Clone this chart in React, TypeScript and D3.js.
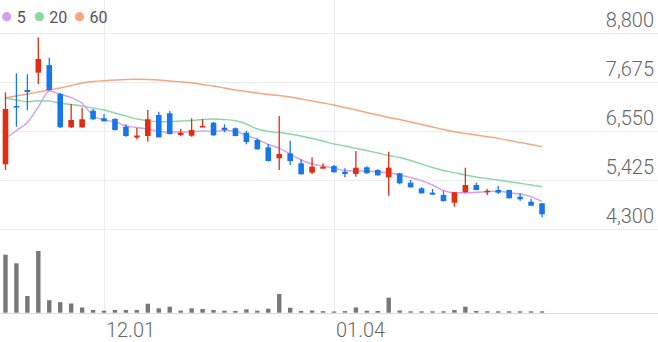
import React from "react";
import * as d3 from "d3";

const W = 658;
const H = 342;

// OHLC values, one per trading day (index 0..49)
const openP = [5785, 7124, 7491, 7889, 8065, 7400, 6635, 6635, 7016, 6842, 6826, 6649, 6401, 6435, 6917, 6956, 6458, 6442, 6635, 6741, 6626, 6612, 6511, 6343, 6176, 5923, 6038, 5808, 5593, 5685, 5746, 5616, 5563, 5716, 5655, 5487, 5579, 5363, 5234, 5135, 5081, 4904, 5143, 5310, 5143, 5195, 5195, 5042, 4927, 4890];
const highP = [7438, 7875, 7852, 8701, 8233, 7430, 7170, 7085, 7055, 6940, 6842, 6704, 6619, 7032, 6993, 7009, 6603, 6842, 6826, 6760, 6704, 6630, 6557, 6382, 6252, 6894, 6327, 5900, 5946, 5808, 5770, 5693, 6091, 5740, 5670, 6075, 5590, 5425, 5260, 5218, 5172, 5150, 5707, 5363, 5218, 5287, 5200, 5120, 4996, 4895];
const lowP = [5655, 6649, 7032, 7629, 7475, 6620, 6620, 6620, 6803, 6770, 6560, 6419, 6355, 6304, 6400, 6470, 6435, 6419, 6635, 6440, 6520, 6430, 6245, 6120, 5850, 5655, 5769, 5550, 5570, 5685, 5595, 5487, 5500, 5570, 5525, 5065, 5330, 5250, 5115, 5085, 4930, 4812, 5135, 5190, 5081, 5104, 5000, 4950, 4830, 4569];
const closeP = [7055, 7094, 7445, 8203, 7491, 6635, 6803, 6819, 6819, 6773, 6573, 6435, 6447, 6819, 6405, 6481, 6511, 6573, 6665, 6451, 6573, 6435, 6298, 6130, 5861, 6022, 5861, 5556, 5731, 5731, 5602, 5563, 5707, 5579, 5533, 5707, 5349, 5257, 5120, 5088, 4943, 5143, 5310, 5195, 5179, 5133, 5005, 4982, 4835, 4638];

// Volume (shares)
const volume = [580000, 494000, 167000, 617000, 125000, 105000, 92000, 52000, 27000, 20000, 27000, 27000, 27000, 90000, 44000, 60000, 20000, 44000, 37000, 27000, 20000, 17000, 34000, 20000, 40000, 187000, 50000, 18000, 22000, 15000, 12000, 16000, 52000, 20000, 18000, 150000, 22000, 14000, 14000, 14000, 14000, 27000, 60000, 17000, 14000, 14000, 14000, 14000, 14000, 14000];

// Moving averages
const ma5 = [6382, 6561, 6745, 7101, 7468, 7393, 7315, 7186, 6901, 6803, 6764, 6665, 6630, 6596, 6539, 6527, 6527, 6534, 6550, 6543, 6561, 6543, 6451, 6359, 6240, 6153, 6022, 5884, 5792, 5746, 5694, 5643, 5632, 5632, 5609, 5593, 5540, 5482, 5409, 5310, 5184, 5133, 5133, 5143, 5156, 5172, 5133, 5104, 5042, 4927];
const ma20 = [7301, 7262, 7223, 7246, 7239, 7186, 7158, 7124, 7078, 7032, 6963, 6894, 6825, 6786, 6764, 6768, 6780, 6791, 6814, 6825, 6814, 6786, 6711, 6596, 6539, 6516, 6481, 6435, 6378, 6320, 6252, 6206, 6153, 6102, 6045, 5988, 5942, 5873, 5792, 5712, 5643, 5593, 5540, 5494, 5459, 5425, 5386, 5349, 5310, 5271];
const ma60 = [7315, 7354, 7399, 7445, 7491, 7537, 7595, 7652, 7686, 7705, 7721, 7732, 7737, 7732, 7721, 7698, 7680, 7657, 7618, 7583, 7537, 7491, 7457, 7422, 7388, 7365, 7331, 7285, 7239, 7193, 7147, 7090, 7032, 6975, 6917, 6860, 6814, 6757, 6699, 6642, 6584, 6534, 6493, 6458, 6419, 6382, 6332, 6286, 6240, 6190];

// Axis ticks
const priceTicks = [8800, 7675, 6550, 5425, 4300];
const dateTickIndex = [9, 30];
const dateTickLabels = ["12.01", "01.04"];

const legendLabels = ["5", "20", "60"];
const maColors = ["#d59ef0", "#8ad9a2", "#f6a67f"];

const UP = "#e42c10";
const DOWN = "#1677ea";
const GRID = "#ececec";
const TEXT = "#666";

export default function App() {
  const idx = d3.range(openP.length);
  const x = d3.scaleBand<number>().domain(idx).range([0, 547.5]).padding(0);
  const cx = (i: number) => (x(i) as number) + x.bandwidth() / 2;
  const y = d3.scaleLinear().domain([4300, 8800]).range([229, 33]);
  const vMax = d3.max(volume) as number;
  const yv = d3.scaleLinear().domain([0, vMax]).range([312.7, 251]);

  const bodyW = 5.6;
  const volW = 4.4;

  const line = d3
    .line<number>()
    .x((_, i) => cx(i))
    .y((d) => y(d))
    .curve(d3.curveMonotoneX);

  const mas = [ma5, ma20, ma60];
  const legendX = [6.7, 39.3, 79.5];

  return (
    <svg
      width={W}
      height={H}
      style={{ position: "fixed", left: 0, top: 0, background: "#fff" }}
      fontFamily="Roboto, 'Noto Sans', sans-serif"
    >
      {/* horizontal grid */}
      {priceTicks.map((t) => (
        <line key={t} x1={0} x2={W} y1={Math.round(y(t)) + 0.5} y2={Math.round(y(t)) + 0.5} stroke={GRID} strokeWidth={1} />
      ))}
      {/* vertical grid */}
      {dateTickIndex.map((i) => (
        <line key={i} x1={Math.round(cx(i)) + 0.5} x2={Math.round(cx(i)) + 0.5} y1={0} y2={313} stroke={GRID} strokeWidth={1} />
      ))}
      {/* volume baseline */}
      <line x1={0} x2={W} y1={313.5} y2={313.5} stroke="#dcdcdc" strokeWidth={1} />

      {/* price labels */}
      {priceTicks.map((t) => (
        <text key={t} x={654} y={y(t) - 6} textAnchor="end" fontSize={20} fontWeight={300} fill={TEXT}>
          {d3.format(",")(t)}
        </text>
      ))}

      {/* date labels */}
      {dateTickIndex.map((i, k) => (
        <text key={i} x={cx(i) + 2} y={337} fontSize={20} fontWeight={300} fill={TEXT}>
          {dateTickLabels[k]}
        </text>
      ))}

      {/* volume bars */}
      {volume.map((v, i) => (
        <rect key={i} x={cx(i) - volW / 2} y={yv(v)} width={volW} height={yv(0) - yv(v)} fill="#777" />
      ))}

      {/* moving averages */}
      {mas
        .slice()
        .reverse()
        .map((m, k) => (
          <path key={k} d={line(m) as string} fill="none" stroke={maColors[2 - k]} strokeWidth={1.4} />
        ))}

      {/* candles */}
      {idx.map((i) => {
        const up = closeP[i] >= openP[i];
        const c = up ? UP : DOWN;
        const top = y(Math.max(openP[i], closeP[i]));
        const bot = y(Math.min(openP[i], closeP[i]));
        return (
          <g key={i}>
            <line x1={cx(i)} x2={cx(i)} y1={y(highP[i])} y2={y(lowP[i])} stroke={c} strokeWidth={1.3} />
            <rect x={cx(i) - bodyW / 2} y={top} width={bodyW} height={Math.max(1.5, bot - top)} fill={c} />
          </g>
        );
      })}

      {/* legend */}
      {legendLabels.map((l, k) => (
        <g key={l}>
          <circle cx={legendX[k]} cy={16.7} r={4.6} fill={maColors[k]} />
          <text x={legendX[k] + 10} y={23} fontSize={16} fill="#555">
            {l}
          </text>
        </g>
      ))}
    </svg>
  );
}
